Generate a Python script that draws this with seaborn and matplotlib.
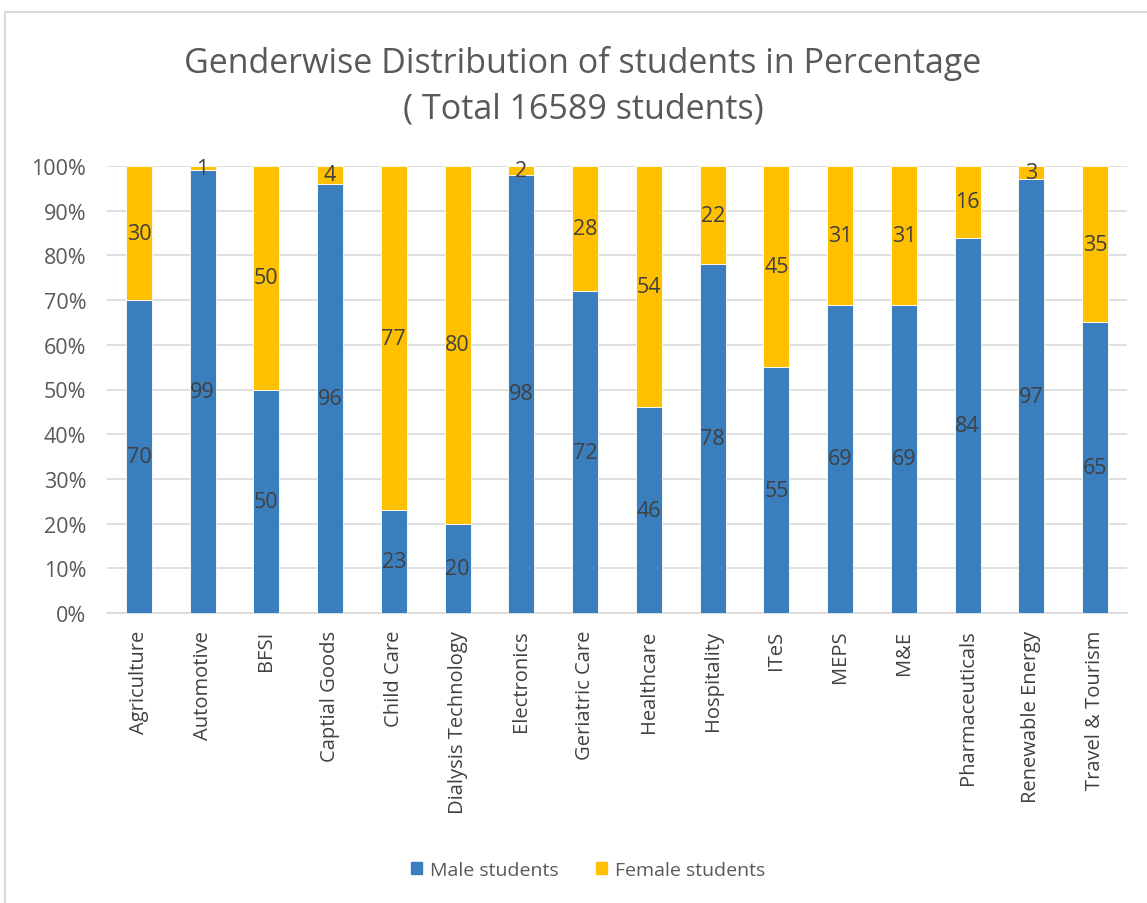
import matplotlib
matplotlib.use("Agg")
import matplotlib.pyplot as plt
import seaborn as sns
import pandas as pd
from matplotlib.patches import Rectangle, Patch

categories = ["Agriculture", "Automotive", "BFSI", "Captial Goods", "Child Care",
              "Dialysis Technology", "Electronics", "Geriatric Care", "Healthcare",
              "Hospitality", "ITeS", "MEPS", "M&E", "Pharmaceuticals",
              "Renewable Energy", "Travel & Tourism"]
male = [70, 99, 50, 96, 23, 20, 98, 72, 46, 78, 55, 69, 69, 84, 97, 65]
female = [30, 1, 50, 4, 77, 80, 2, 28, 54, 22, 45, 31, 31, 16, 3, 35]
yticks = [0, 10, 20, 30, 40, 50, 60, 70, 80, 90, 100]

sns.set_theme(style="white")
plt.rcParams['font.family'] = ['Open Sans', 'DejaVu Sans']

BLUE = "#3A7EBD"
YELLOW = "#FFC000"
TXT = "#595959"

df = pd.DataFrame({"cat": categories, "male": male, "female": female})

fig = plt.figure(figsize=(11.47, 9.04), dpi=100)
fig.patches.append(Rectangle((5/1147, -0.01), 1.02, 1 - 13/904 + 0.01,
                             transform=fig.transFigure, fill=False,
                             edgecolor="#D9D9D9", linewidth=1.5))
ax = fig.add_axes([107/1147, 1 - 614/904, (1127 - 107)/1147, (614 - 167)/904])

sns.barplot(data=df, x="cat", y="male", color=BLUE, width=0.41, ax=ax,
            saturation=1, zorder=3, edgecolor="white", linewidth=0.6)
sns.barplot(data=df, x="cat", y="female", bottom=df["male"], color=YELLOW,
            width=0.41, ax=ax, saturation=1, zorder=3, edgecolor="white", linewidth=0.6)

for c in ax.containers:
    ax.bar_label(c, label_type="center", fontsize=15.5, color="#404040")

ax.set_ylim(0, 100)
ax.set_xlim(-0.5, len(categories) - 0.5)
ax.set_yticks(yticks)
ax.set_yticklabels([f"{v}%" for v in yticks], fontsize=15.5, color=TXT)
ax.set_xticks(range(len(categories)))
ax.set_xticklabels(categories, rotation=90, fontsize=14.5, color="#404040")
ax.tick_params(axis="y", length=0, pad=15)
ax.tick_params(axis="x", length=0, pad=12)
ax.set_xlabel("")
ax.set_ylabel("")
ax.yaxis.grid(True, color="#D9D9D9", linewidth=1.2, zorder=0)
ax.set_axisbelow(True)
for s in ["top", "right", "left"]:
    ax.spines[s].set_visible(False)
ax.spines["bottom"].set_color("#D9D9D9")
ax.spines["bottom"].set_linewidth(1.2)

fig.text(583/1147, 1 - 86/904, "Genderwise Distribution of students in Percentage\n( Total 16589 students)",
         ha="center", va="center", fontsize=24.5, color=TXT, linespacing=1.45)

handles = [Patch(color=BLUE, label="Male students"), Patch(color=YELLOW, label="Female students")]
fig.legend(handles=handles, loc="center", bbox_to_anchor=(588/1147, 1 - 871/904), ncol=2,
           frameon=False, fontsize=14, handlelength=0.6, handleheight=0.6,
           columnspacing=1.9, handletextpad=0.4, labelcolor=TXT)

fig.savefig("out.png", dpi=100)
